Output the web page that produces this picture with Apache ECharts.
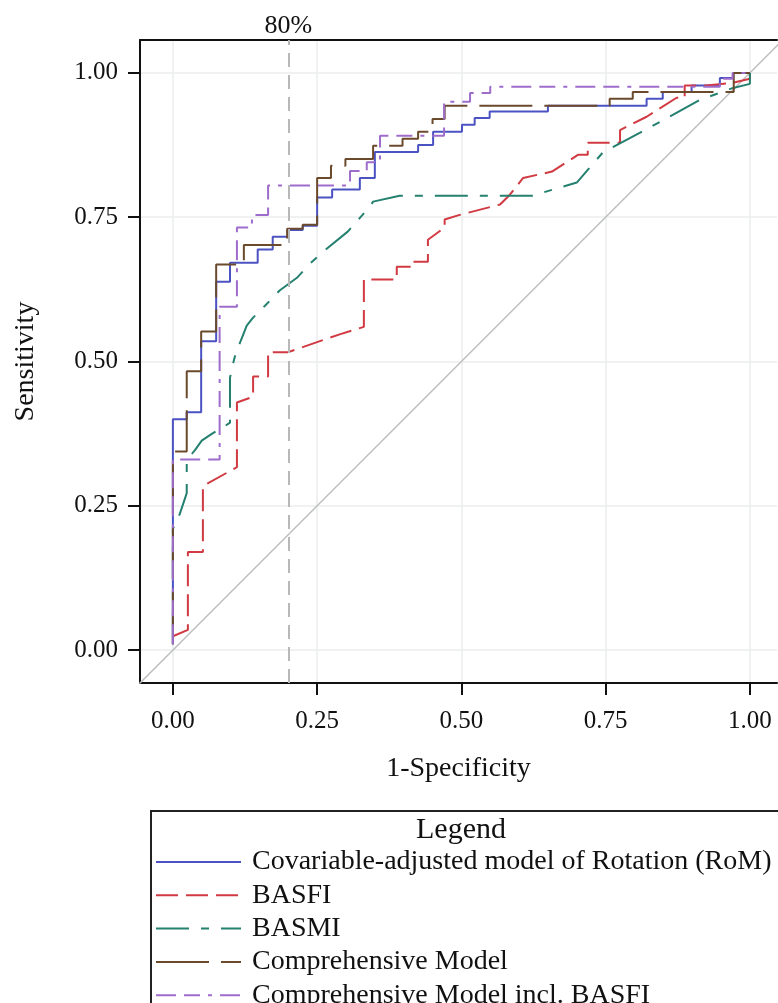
<!DOCTYPE html>
<html>
<head>
<meta charset="utf-8">
<style>
  html, body { margin: 0; padding: 0; background: #fff; }
  #main { width: 778px; height: 1003px; }
</style>
<script src="https://cdn.jsdelivr.net/npm/echarts@6/dist/echarts.min.js"></script>
</head>
<body>
<div id="main"></div>
<script>
// ROC curves as [1-specificity, sensitivity]
const seriesNames = [
    'Covariable-adjusted model of Rotation (RoM)',
    'BASFI',
    'BASMI',
    'Comprehensive Model',
    'Comprehensive Model incl. BASFI'
];

const rom = [
    [0, 0.01], [0, 0.40], [0.024, 0.40], [0.024, 0.412], [0.049, 0.412], [0.049, 0.535],
    [0.075, 0.535], [0.075, 0.638], [0.099, 0.638], [0.099, 0.671], [0.147, 0.671],
    [0.147, 0.694], [0.173, 0.694], [0.173, 0.716], [0.199, 0.716], [0.199, 0.728],
    [0.225, 0.728], [0.225, 0.735], [0.25, 0.735], [0.25, 0.784], [0.276, 0.784],
    [0.276, 0.798], [0.324, 0.798], [0.324, 0.818], [0.35, 0.818], [0.35, 0.863],
    [0.425, 0.863], [0.425, 0.875], [0.451, 0.875], [0.451, 0.898], [0.501, 0.898],
    [0.501, 0.91], [0.523, 0.91], [0.523, 0.922], [0.549, 0.922], [0.549, 0.933],
    [0.65, 0.933], [0.65, 0.943], [0.821, 0.943], [0.821, 0.955], [0.849, 0.955],
    [0.849, 0.967], [0.899, 0.967], [0.899, 0.978], [0.948, 0.978], [0.948, 0.991],
    [0.971, 0.991], [0.971, 1], [1, 1]
];

const basfi = [
    [0, 0.024], [0.026, 0.035], [0.026, 0.17], [0.052, 0.17], [0.052, 0.284],
    [0.111, 0.317], [0.111, 0.429], [0.139, 0.439], [0.139, 0.474], [0.165, 0.474],
    [0.165, 0.516], [0.199, 0.516], [0.289, 0.547], [0.331, 0.56], [0.331, 0.642],
    [0.388, 0.642], [0.388, 0.664], [0.416, 0.664], [0.416, 0.673], [0.442, 0.673],
    [0.442, 0.711], [0.471, 0.732], [0.471, 0.746], [0.497, 0.754], [0.567, 0.772],
    [0.584, 0.789], [0.607, 0.818], [0.657, 0.829], [0.702, 0.858], [0.719, 0.858],
    [0.719, 0.879], [0.752, 0.879], [0.775, 0.879], [0.775, 0.901], [0.821, 0.924],
    [0.873, 0.957], [0.887, 0.957], [0.887, 0.978], [0.925, 0.978], [0.971, 0.983],
    [1, 0.99], [1, 1]
];

const basmi = [
    [0, 0.01], [0, 0.21], [0.012, 0.236], [0.024, 0.272], [0.024, 0.33], [0.038, 0.346],
    [0.05, 0.363], [0.068, 0.375], [0.087, 0.386], [0.099, 0.394], [0.099, 0.472],
    [0.104, 0.495], [0.107, 0.507], [0.111, 0.519], [0.128, 0.562], [0.139, 0.576],
    [0.16, 0.597], [0.185, 0.623], [0.215, 0.645], [0.236, 0.668], [0.26, 0.69],
    [0.303, 0.725], [0.341, 0.768], [0.347, 0.777], [0.393, 0.787], [0.622, 0.787],
    [0.659, 0.798], [0.7, 0.81], [0.719, 0.832], [0.745, 0.862], [0.809, 0.896],
    [0.844, 0.915], [0.913, 0.953], [0.971, 0.974], [1, 0.981], [1, 1]
];

const comprehensive = [
    [0, 0.01], [0, 0.344], [0.024, 0.344], [0.024, 0.483], [0.049, 0.483], [0.049, 0.552],
    [0.075, 0.552], [0.075, 0.668], [0.123, 0.668], [0.123, 0.702], [0.198, 0.702],
    [0.198, 0.73], [0.225, 0.73], [0.225, 0.737], [0.25, 0.737], [0.25, 0.818],
    [0.274, 0.818], [0.274, 0.839], [0.299, 0.839], [0.299, 0.851], [0.347, 0.851],
    [0.347, 0.874], [0.398, 0.874], [0.398, 0.886], [0.425, 0.886], [0.425, 0.898],
    [0.45, 0.898], [0.45, 0.92], [0.471, 0.92], [0.471, 0.943], [0.757, 0.943],
    [0.757, 0.955], [0.797, 0.955], [0.797, 0.967], [0.972, 0.967], [0.972, 1], [1, 1]
];

const comprehensiveBasfi = [
    [0, 0.01], [0, 0.33], [0.081, 0.33], [0.081, 0.595], [0.111, 0.595], [0.111, 0.732],
    [0.137, 0.732], [0.137, 0.754], [0.165, 0.754], [0.165, 0.805], [0.307, 0.805],
    [0.307, 0.83], [0.336, 0.83], [0.336, 0.845], [0.359, 0.845], [0.359, 0.891],
    [0.47, 0.891], [0.47, 0.95], [0.515, 0.95], [0.515, 0.965], [0.55, 0.965],
    [0.55, 0.976], [0.948, 0.976], [0.948, 0.99], [0.97, 0.99], [0.97, 1], [1, 1]
];

const tickValues = [0, 0.25, 0.5, 0.75, 1];
const cutoff = 0.2;
const cutoffLabel = '80%';
const diagonal = [[-0.1, -0.1], [1.1, 1.1]];

const font = "'Liberation Serif', 'DejaVu Serif', serif";
const ink = '#111';

function curve(name, data, color, dash) {
    return {
        name: name,
        type: 'line',
        data: data,
        showSymbol: false,
        symbol: 'none',
        clip: true,
        lineStyle: { color: color, width: 2, type: dash },
        itemStyle: { color: color }
    };
}

function axis(name, nameGap, labelMargin, max) {
    return {
        type: 'value',
        min: -0.057,
        max: max,
        name: name,
        nameLocation: 'middle',
        nameGap: nameGap,
        nameTextStyle: { fontFamily: font, fontSize: 28, color: ink },
        axisLine: { show: true, onZero: false, lineStyle: { color: ink, width: 2 } },
        axisTick: { show: true, length: 12, customValues: tickValues, lineStyle: { color: ink, width: 2 } },
        axisLabel: {
            customValues: tickValues,
            margin: labelMargin,
            fontFamily: font,
            fontSize: 25,
            color: ink,
            formatter: v => v.toFixed(2)
        },
        splitLine: { show: true, lineStyle: { color: '#ebeeee', width: 1.5 } }
    };
}

const chart = echarts.init(document.getElementById('main'));
chart.setOption({
    animation: false,
    grid: { left: 140, top: 40, width: 637, height: 643 },
    xAxis: [
        axis('1-Specificity', 72, 26, 1.047),
        {
            // top frame edge
            type: 'value', position: 'top', min: -0.057, max: 1.047,
            axisLine: { show: true, onZero: false, lineStyle: { color: ink, width: 2 } },
            axisTick: { show: false }, axisLabel: { show: false }, splitLine: { show: false }
        }
    ],
    yAxis: axis('Sensitivity', 100, 22, 1.057),
    legend: {
        orient: 'vertical',
        left: 150,
        top: 843,
        height: 400,
        itemWidth: 85,
        itemHeight: 14,
        itemGap: 5.3,
        data: seriesNames,
        itemStyle: { opacity: 0 },
        textStyle: { fontFamily: font, fontSize: 28, color: ink, padding: [0, 0, 0, 6] },
        selectedMode: false
    },
    graphic: [
        {
            type: 'rect',
            shape: { x: 151, y: 811, width: 700, height: 300 },
            style: { fill: 'none', stroke: '#222', lineWidth: 2 },
            silent: true
        },
        {
            type: 'text',
            x: 461, y: 830,
            style: { text: 'Legend', fontFamily: font, fontSize: 30, fill: ink, align: 'center', verticalAlign: 'middle' },
            silent: true
        }
    ],
    series: [
        {
            type: 'line',
            data: diagonal,
            showSymbol: false,
            symbol: 'none',
            silent: true,
            clip: true,
            lineStyle: { color: '#bdbdbd', width: 1.5 },
            markLine: {
                silent: true,
                symbol: 'none',
                lineStyle: { color: '#b8b8b8', width: 2, type: [14, 8] },
                label: {
                    show: true, position: 'end', formatter: cutoffLabel, distance: 1,
                    fontFamily: font, fontSize: 26, color: ink
                },
                data: [{ xAxis: cutoff }]
            }
        },
        curve(seriesNames[0], rom, '#4b53c3', 'solid'),
        curve(seriesNames[1], basfi, '#d13a42', [22, 8]),
        curve(seriesNames[2], basmi, '#24806f', [33, 12, 8, 12]),
        curve(seriesNames[3], comprehensive, '#6b4a2c', [53, 12]),
        curve(seriesNames[4], comprehensiveBasfi, '#9e6dcc', [20, 8, 16, 8, 4, 8])
    ]
});
</script>
</body>
</html>
